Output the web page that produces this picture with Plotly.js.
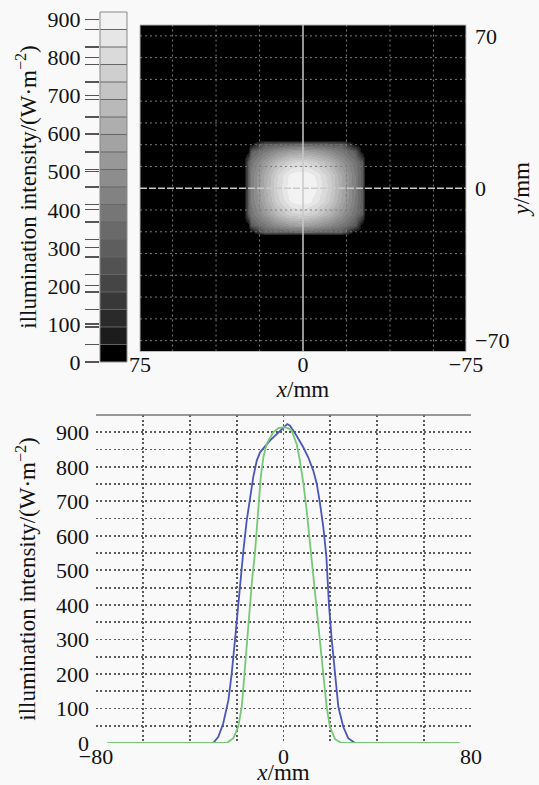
<!DOCTYPE html>
<html><head><meta charset="utf-8">
<script src="https://cdn.plot.ly/plotly-3.0.1.min.js"></script>
<style>html,body{margin:0;padding:0;background:#f9f9f9}</style>
</head><body>
<div id="chart" style="width:539px;height:785px"></div>
<script>
// ---- colour bar levels (W·m^-2) ----
const bandCenters = [23,69,115,161,207,253,299,345,391,437,483,529,575,621,667,713,759,805,851,897];
const bandGrays   = [0,28,42,56,69,82,94,106,118,130,141,152,163,174,185,196,207,218,230,242];
const cbTickVals  = [0,100,200,300,400,500,600,700,800,900];
const cbMin = 0, cbMax = 920;

// ---- illumination map (x, y in mm; z in W·m^-2) ----
const mapX = [-75,-28.5,-27,-24,-18,-12,-6,-2,2,6,12,18,24,25.5,27,75];
const mapY = [-75,-21.5,-20,-17,-12,-6,0,6,12,17,20.5,22,75];
const mapZ = [
  [0,0,0,0,0,0,0,0,0,0,0,0,0,0,0,0],
  [0,0,0,0,0,0,0,0,0,0,0,0,0,0,0,0],
  [0,0,0,0,290,305,320,325,325,320,305,290,0,0,0,0],
  [0,0,0,290,390,470,530,555,560,545,480,395,295,0,0,0],
  [0,0,280,375,510,640,730,770,780,760,665,520,385,290,0,0],
  [0,0,295,410,580,740,850,895,905,880,760,590,420,300,0,0],
  [0,0,300,420,600,770,880,915,920,905,790,610,430,305,0,0],
  [0,0,295,415,590,755,865,905,912,890,775,600,425,300,0,0],
  [0,0,285,380,515,650,740,780,790,770,675,530,390,295,0,0],
  [0,0,0,290,395,475,535,560,565,550,485,400,300,0,0,0],
  [0,0,0,0,290,305,320,325,325,320,305,290,0,0,0,0],
  [0,0,0,0,0,0,0,0,0,0,0,0,0,0,0,0],
  [0,0,0,0,0,0,0,0,0,0,0,0,0,0,0,0]
];
const mapTickX = [75,0,-75];
const mapTickY = [70,0,-70];
const mapGridX = [-60,-40,-20,20,40,60];
const mapGridY = [-70,-60,-50,-40,-30,-20,-10,10,20,30,40,50,60,70];

// ---- profiles ----
const blueX = [-75,-30,-27.8,-25.7,-23.5,-22.1,-20.7,-19.4,-18.4,-17.1,-15.7,-14.3,-12.9,-11.4,-10,-5.8,-1.5,1.6,2.8,5.6,8.5,10.6,12.7,14.2,15.6,17,18.3,19.4,20.6,22,23.4,25.5,27.6,30.5,75];
const blueY = [0,0,18,57,124,201,298,394,470,558,644,712,770,818,842,876,905,924,919,890,856,827,789,751,693,625,540,400,298,201,105,47,14,0,0];
const greenX = [-75,-24.2,-21.4,-19.3,-17.8,-16.7,-15.7,-14.6,-13.3,-12.2,-11.4,-10.8,-9.7,-8.6,-7.2,-4.4,-2.2,0.5,2.5,3.5,5.6,7,8.5,9.9,11.3,12.7,14.2,15.6,17,18.4,19.8,22,24.8,75];
const greenY = [0,0,14,47,105,201,298,394,480,548,625,693,770,827,866,900,912,915,910,905,866,818,751,673,577,481,394,298,201,105,47,11,0,0];

// colourscale built from band greys
const cscale = [];
bandGrays.forEach((g, k) => {
  const c = `rgb(${g},${g},${g})`;
  cscale.push([k / bandGrays.length, c]);
  cscale.push([(k + 1) / bandGrays.length, c]);
});

const FONT = {family: 'Liberation Serif', size: 22, color: '#111'};
const TFONT = {family: 'Liberation Serif', size: 23, color: '#111'};
const TITLE = 'illumination intensity/(W·m<sup>−2</sup>)';

const traces = [
  {type: 'heatmap', x: mapX, y: mapY, z: mapZ, zmin: cbMin, zmax: cbMax,
   colorscale: cscale, zsmooth: 'best', showscale: false, xaxis: 'x', yaxis: 'y', hoverinfo: 'skip'},
  {type: 'heatmap', x: [0], y: bandCenters, z: bandCenters.map(v => [v]), zmin: cbMin, zmax: cbMax,
   colorscale: cscale, showscale: false, xaxis: 'x3', yaxis: 'y3', hoverinfo: 'skip'},
  {type: 'scatter', mode: 'lines', x: blueX, y: blueY, xaxis: 'x2', yaxis: 'y2',
   line: {color: '#4b56b8', width: 1.8}, showlegend: false},
  {type: 'scatter', mode: 'lines', x: greenX, y: greenY, xaxis: 'x2', yaxis: 'y2',
   line: {color: '#76c876', width: 1.8}, showlegend: false}
];

const shapes = [];
mapGridX.forEach(v => shapes.push({type: 'line', layer: 'above', xref: 'x', yref: 'y domain', x0: v, x1: v, y0: 0, y1: 1,
  line: {color: '#7c7c7c', width: 1, dash: '2px,3px'}}));
mapGridY.forEach(v => shapes.push({type: 'line', layer: 'above', xref: 'x domain', yref: 'y', x0: 0, x1: 1, y0: v, y1: v,
  line: {color: '#7c7c7c', width: 1, dash: '2px,3px'}}));
// cross hair
shapes.push({type: 'line', layer: 'above', xref: 'x', yref: 'y domain', x0: 0, x1: 0, y0: 0, y1: 1,
  line: {color: '#c9c9c9', width: 1.5}});
shapes.push({type: 'line', layer: 'above', xref: 'x domain', yref: 'y', x0: 0, x1: 1, y0: 0, y1: 0,
  line: {color: '#c9c9c9', width: 1.5, dash: '7px,2px'}});
// colour bar band separators
for (let k = 1; k < bandCenters.length; k++) {
  const b = (bandCenters[k - 1] + bandCenters[k]) / 2;
  shapes.push({type: 'line', layer: 'above', xref: 'x3 domain', yref: 'y3', x0: 0, x1: 1, y0: b, y1: b,
    line: {color: '#666', width: 1}});
}
shapes.push({type: 'rect', layer: 'above', xref: 'x3 domain', yref: 'y3 domain', x0: 0, x1: 1, y0: 0, y1: 1,
  line: {color: '#888', width: 1}});
// top map frame
shapes.push({type: 'rect', layer: 'above', xref: 'x domain', yref: 'y domain', x0: 0, x1: 1, y0: 0, y1: 1,
  line: {color: '#bdbdbd', width: 1}});
// profile frame top line
shapes.push({type: 'line', layer: 'above', xref: 'x2 domain', yref: 'y2 domain', x0: 0, x1: 1, y0: 1, y1: 1,
  line: {color: '#777', width: 1.5}});

const GRID = {gridcolor: '#5a5a5a', gridwidth: 1.8, griddash: '2px,2.5px'};

const layout = {
  width: 539, height: 785,
  margin: {l: 0, r: 0, t: 0, b: 0},
  paper_bgcolor: '#f9f9f9', plot_bgcolor: '#f9f9f9',
  font: FONT, showlegend: false,
  xaxis: {domain: [0.2597, 0.8646], anchor: 'y', range: [75, -75], tickvals: mapTickX,
    showgrid: false, zeroline: false, ticks: '', tickfont: FONT, ticklabelstandoff: -3,
    title: {text: '<i>x</i>/mm', font: TFONT, standoff: 0}},
  yaxis: {domain: [0.5522, 0.9682], anchor: 'x', range: [-75, 75], side: 'right', tickvals: mapTickY,
    showgrid: false, zeroline: false, ticks: '', tickfont: FONT, ticklabelstandoff: 8,
    title: {text: '<i>y</i>/mm', font: TFONT, standoff: 4}},
  xaxis2: Object.assign({domain: [0.1781, 0.8738], anchor: 'y2', range: [-80, 80], dtick: 80, tick0: -80,
    showgrid: true, minor: Object.assign({dtick: 20, showgrid: true}, GRID),
    zeroline: false, ticks: '', tickfont: FONT, ticklabelstandoff: -2,
    title: {text: '<i>x</i>/mm', font: TFONT, standoff: 0}}, GRID),
  yaxis2: Object.assign({domain: [0.0535, 0.4713], anchor: 'x2', range: [0, 950], dtick: 100, tick0: 0,
    showgrid: true, minor: Object.assign({dtick: 50, showgrid: true}, GRID),
    zeroline: false, ticks: '', tickfont: FONT, ticklabelstandoff: 6,
    title: {text: TITLE, font: TFONT, standoff: 13}}, GRID),
  xaxis3: {domain: [0.1855, 0.2356], anchor: 'y3', range: [-0.5, 0.5], showticklabels: false,
    showgrid: false, zeroline: false, ticks: ''},
  yaxis3: {domain: [0.5389, 0.9847], anchor: 'x3', range: [cbMin, cbMax], tickvals: cbTickVals,
    ticks: 'outside', ticklen: 14, tickcolor: '#555', tickwidth: 1.2,
    minor: {tickvals: bandCenters.slice(1).map((c, k) => (bandCenters[k] + c) / 2), ticks: 'outside', ticklen: 14, tickcolor: '#555', tickwidth: 1.2},
    showgrid: false, zeroline: false, tickfont: FONT,
    title: {text: TITLE, font: TFONT, standoff: 4}},
  shapes: shapes
};

Plotly.newPlot('chart', traces, layout, {displayModeBar: false, staticPlot: true});
</script>
</body></html>
